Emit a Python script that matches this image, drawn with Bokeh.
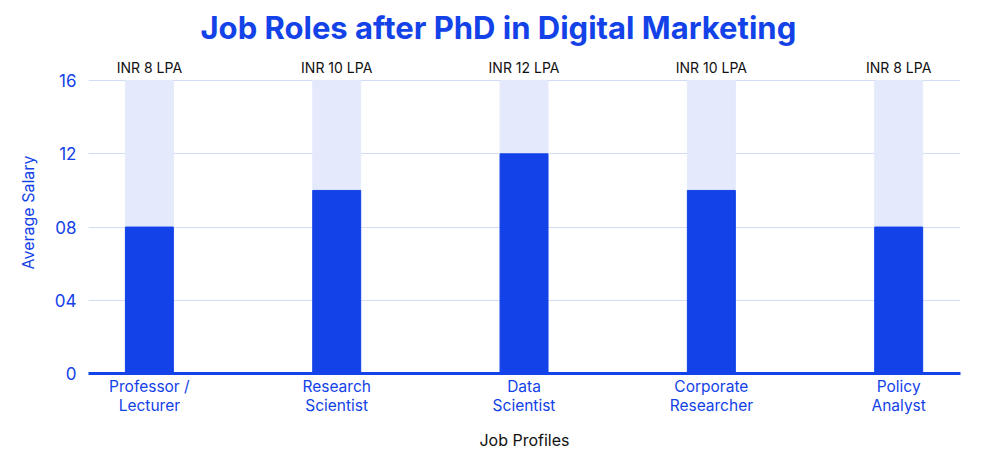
from bokeh.plotting import figure
from bokeh.models import ColumnDataSource, Range1d, FixedTicker
from bokeh.core.properties import value
from bokeh.embed import file_html
from bokeh.resources import INLINE

categories = ["Professor /\nLecturer", "Research\nScientist", "Data\nScientist",
              "Corporate\nResearcher", "Policy\nAnalyst"]
salaries = [8, 10, 12, 10, 8]
salary_labels = ["INR 8 LPA", "INR 10 LPA", "INR 12 LPA", "INR 10 LPA", "INR 8 LPA"]
max_salary = 16
y_ticks = [0, 4, 8, 12, 16]
y_tick_labels = ["0", "04", "08", "12", "16"]

BLUE = "#1242E8"
LIGHT = "#E4EAFB"

xs = [i + 0.5 for i in range(len(categories))]
src = ColumnDataSource(dict(x=xs, top=salaries, full=[max_salary] * len(xs), lab=salary_labels))

p = figure(width=1000, height=461, output_backend="svg", toolbar_location=None,
           x_range=Range1d(0.175, 4.83), y_range=Range1d(0, 17.59))
p.min_border_left = 88
p.min_border_right = 40
p.min_border_bottom = 88
p.min_border_top = 0
p.outline_line_color = None
p.background_fill_color = "white"
p.border_fill_color = "white"

p.title.text = "Job Roles after PhD in Digital Marketing"
p.title.align = "left"
p.title.offset = 112
p.title.text_color = BLUE
p.title.text_font = "Inter"
p.title.text_font_style = "bold"
p.title.text_font_size = "31px"
p.title.standoff = 12

p.vbar(x="x", top="full", bottom=0, width=0.256, color=LIGHT, source=src)
p.vbar(x="x", top="top", bottom=0, width=0.256, color=BLUE, source=src)
p.text(x="x", y="full", text="lab", source=src, text_align="center", text_baseline="bottom",
       y_offset=-5, text_font=value("Inter"), text_font_size="14px", text_color="#111111")

p.xgrid.grid_line_color = None
p.ygrid.grid_line_color = "#D3DCF6"
p.ygrid.ticker = FixedTicker(ticks=y_ticks)

p.yaxis.ticker = FixedTicker(ticks=y_ticks)
p.yaxis.major_label_overrides = {t: l for t, l in zip(y_ticks, y_tick_labels)}
p.yaxis.axis_line_color = None
p.yaxis.major_tick_line_color = None
p.yaxis.minor_tick_line_color = None
p.yaxis.major_label_text_color = BLUE
p.yaxis.major_label_text_font = "Inter"
p.yaxis.major_label_text_font_size = "17px"
p.yaxis.major_label_standoff = 6
p.yaxis.axis_label = "Average Salary"
p.yaxis.axis_label_text_color = BLUE
p.yaxis.axis_label_text_font = "Inter"
p.yaxis.axis_label_text_font_style = "normal"
p.yaxis.axis_label_text_font_size = "16px"
p.yaxis.axis_label_standoff = 14

p.xaxis.ticker = FixedTicker(ticks=xs)
p.xaxis.major_label_overrides = {x: c for x, c in zip(xs, categories)}
p.xaxis.axis_line_color = BLUE
p.xaxis.axis_line_width = 3
p.xaxis.major_tick_line_color = None
p.xaxis.minor_tick_line_color = None
p.xaxis.major_label_text_color = BLUE
p.xaxis.major_label_text_font = "Inter"
p.xaxis.major_label_text_font_size = "15.5px"
p.xaxis.major_label_text_line_height = 1.05
p.xaxis.major_label_standoff = -3
p.xaxis.axis_label = "Job Profiles"
p.xaxis.axis_label_text_color = "#111111"
p.xaxis.axis_label_text_font = "Inter"
p.xaxis.axis_label_text_font_style = "normal"
p.xaxis.axis_label_text_font_size = "16px"
p.xaxis.axis_label_standoff = 12

open("out.html", "w").write(file_html(p, INLINE))
